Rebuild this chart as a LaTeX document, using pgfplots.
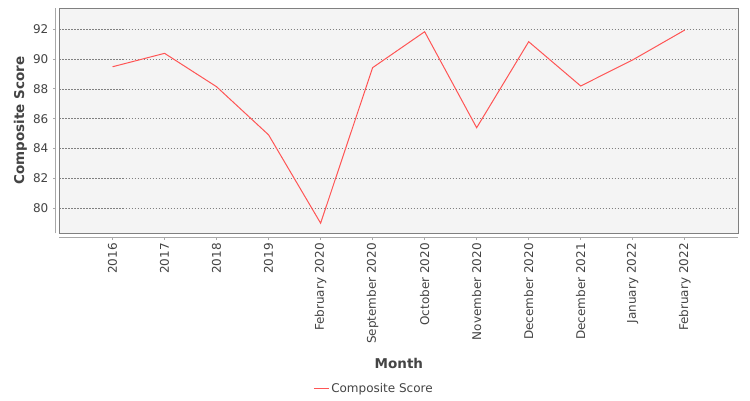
\documentclass[border=0pt]{standalone}
\usepackage{pgfplots}
\pgfplotsset{compat=1.18}
\usepackage{fontspec}
\setmainfont{DejaVu Sans}

\definecolor{plotbg}{HTML}{F4F4F4}
\definecolor{seriesred}{HTML}{FF5555}
\definecolor{textgray}{HTML}{444444}
\definecolor{bordergray}{HTML}{808080}
\definecolor{axisgray}{HTML}{A8A8A8}

\begin{document}
\begin{tikzpicture}[x=1pt,y=1pt]
  \path[use as bounding box, fill=white] (0,0) rectangle (750,400);
  \begin{axis}[
      at={(59.5pt,166.7pt)}, anchor=south west,
      scale only axis,
      width=678.8pt, height=225pt,
      clip=false,
      xmin=-1.02, xmax=12.03,
      ymin=78.32, ymax=93.41,
      xtick=data,
      xticklabels={2016,2017,2018,2019,February 2020,September 2020,October 2020,November 2020,December 2020,December 2021,January 2022,February 2022},
      ytick={80,82,84,86,88,90,92},
      xtick pos=bottom, ytick pos=left,
      /pgf/number format/assume math mode=true,
      axis background/.style={fill=plotbg},
      axis line style={bordergray, line width=1pt},
      ymajorgrids=true,
      grid style={gray, line width=0.6pt, dash pattern=on 1.5pt off 1.5pt},
      major tick length=0pt,
      tick label style={font=\fontsize{12}{14}\selectfont, text=textgray, inner sep=0pt},
      xticklabel style={yshift=-9.8pt, rotate=90, anchor=east},
      yticklabel style={anchor=east, xshift=-11pt},
      xlabel={Month},
      ylabel={Composite Score},
      label style={font=\fontsize{13.5}{16}\selectfont\bfseries, text=textgray},
      xlabel style={at={(axis description cs:0.5,-0.578)}, anchor=center},
      ylabel style={at={(axis description cs:-0.0575,0.5)}, anchor=center, rotate=0},
      legend style={at={(axis description cs:0.4633,-0.689)}, anchor=center, draw=none, fill=none,
        font=\fontsize{12}{14}\selectfont, text=textgray, inner sep=0pt},
      legend image code/.code={\draw[#1] (0pt,0pt) -- (15pt,0pt);},
      legend cell align=left,
  ]
  \addplot[color=seriesred, line width=1pt, mark=none] coordinates {
    (0,89.49) (1,90.39) (2,88.15) (3,84.92) (4,79.00) (5,89.43)
    (6,91.84) (7,85.40) (8,91.17) (9,88.20) (10,89.95) (11,91.95)
  };
  \addlegendentry{Composite Score}
  % offset axis lines and their ticks
  \draw[axisgray, line width=1pt] ([xshift=-3.8pt]rel axis cs:0,0) -- ([xshift=-3.8pt]rel axis cs:0,1);
  \draw[axisgray, line width=1pt] ([yshift=-3.7pt]rel axis cs:0,0) -- ([yshift=-3.7pt]rel axis cs:1,0);
  \pgfplotsinvokeforeach{80,82,84,86,88,90,92}{
    \draw[axisgray, line width=1pt] ([xshift=-3.8pt]axis cs:-1.02,#1) -- ([xshift=-6.8pt]axis cs:-1.02,#1);
  }
  \pgfplotsinvokeforeach{0,1,2,3,4,5,6,7,8,9,10,11}{
    \draw[axisgray, line width=1pt] ([yshift=-3.7pt]axis cs:#1,78.32) -- ([yshift=-6.7pt]axis cs:#1,78.32);
  }
  \end{axis}
\end{tikzpicture}
\end{document}
